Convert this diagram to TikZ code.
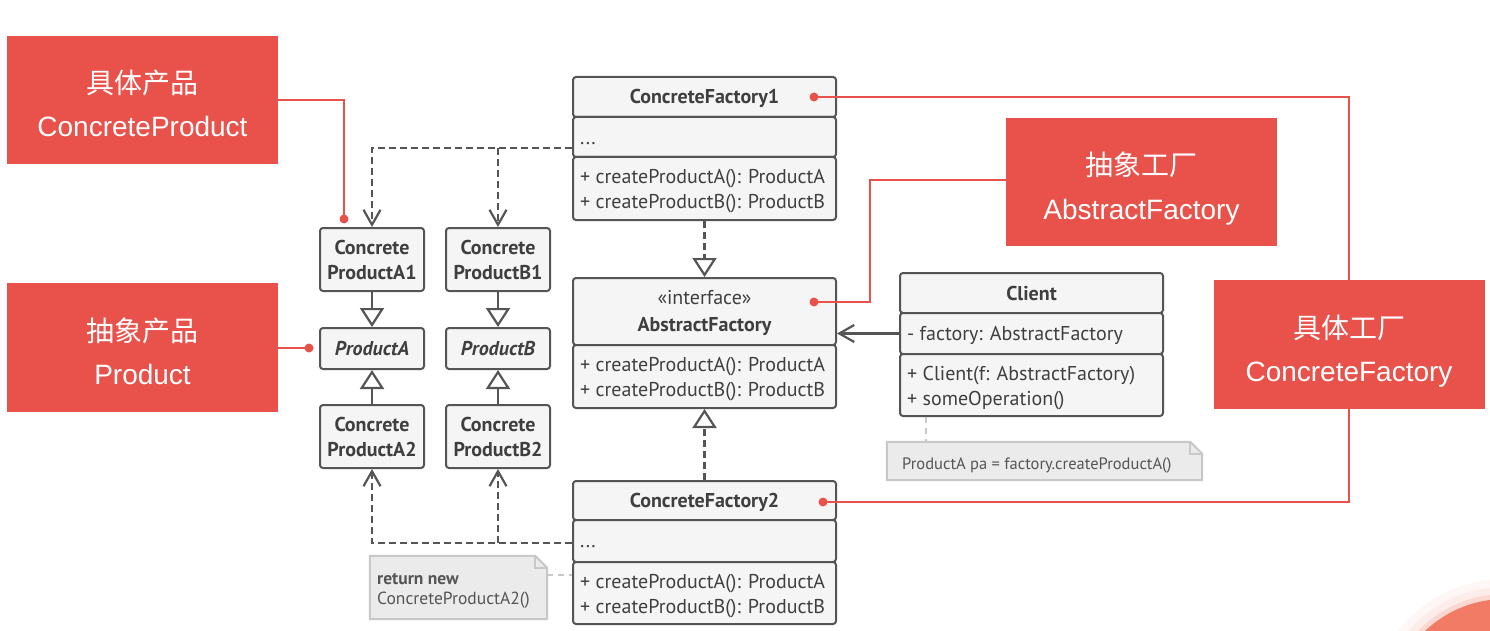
\documentclass[tikz,border=0pt]{standalone}
\usepackage{fontspec}
\setmainfont{PT Sans}
\newfontfamily\cjkfont{Noto Sans CJK SC}
\newfontfamily\arialfont{Liberation Sans}
\usetikzlibrary{arrows.meta,calc}
\definecolor{gline}{HTML}{555555}
\definecolor{gfill}{HTML}{F5F5F5}
\definecolor{gtext}{HTML}{3F3F3F}
\definecolor{redc}{HTML}{E8524B}
\definecolor{notefill}{HTML}{EBEBEB}
\definecolor{noteline}{HTML}{C8C8C8}
\definecolor{notetext}{HTML}{555555}
\definecolor{orangec}{HTML}{F27B66}
\newcommand\umlfs{\fontsize{20}{25}\selectfont}
\newcommand\notefs{\fontsize{16.5}{20}\selectfont}
\newcommand\notefsb{\fontsize{17.5}{20}\selectfont}
\newcommand\redfs{\fontsize{28}{34}\selectfont}
\begin{document}
\begin{tikzpicture}[x=1pt,y=-1pt,
  comp/.style={draw=gline, fill=gfill, line width=2pt, rounded corners=3pt, inner sep=0pt,
    minimum width=263pt, text=gtext, font=\umlfs\bfseries, text height=14pt, text depth=0pt},
  prod/.style={draw=gline, fill=gfill, line width=2pt, rounded corners=3pt, inner sep=0pt,
    minimum width=104pt, align=center, text=gtext, font=\umlfs\bfseries},
  member/.style={anchor=base west, inner sep=0pt, text=gtext, font=\umlfs},
  redbox/.style={fill=redc, minimum width=271pt, inner sep=0pt},
  cjktext/.style={anchor=base, inner sep=0pt, text=white, font=\redfs\cjkfont},
  engtext/.style={anchor=base, inner sep=0pt, text=white, font=\redfs\arialfont},
  redl/.style={draw=redc, line width=1.6pt},
  reddot/.style={circle, fill=redc, minimum size=9pt, inner sep=0pt},
  gen/.style={draw=gline, line width=2.2pt, -{Triangle[length=19pt,width=24pt,fill=white,line join=miter]}},
  realize/.style={gen, dash pattern=on 7pt off 4pt},
  dep/.style={draw=gline, line width=2.2pt, dash pattern=on 7pt off 4pt, -{Straight Barb[length=15pt,width=17pt]}},
  assoc/.style={draw=gline, line width=2.2pt, -{Straight Barb[length=15pt,width=17pt]}},
  notebox/.style={inner sep=0pt},
  notelink/.style={draw=noteline, line width=2pt, dash pattern=on 6pt off 5pt},
  notetxt/.style={anchor=base west, inner sep=0pt, text=notetext, font=\notefs}
]
\fill[white] (0,0) rectangle (1490,631);
\useasboundingbox (0,0) rectangle (1490,631);

% decorative circle bottom right
\fill[orangec!6] (1505,715) circle (136);
\fill[orangec!14] (1505,715) circle (128);
\fill[orangec!30] (1505,715) circle (121);
\fill[orangec] (1505,715) circle (116);

% ConcreteFactory1
\node[comp, minimum height=40pt] (cf1h) at (704.5,97) {ConcreteFactory1};
\node[comp, minimum height=40pt] (cf1a) at (704.5,137) {};
\node[comp, minimum height=63pt] (cf1m) at (704.5,188.5) {};
\node[member] (cf1d) at (580,145) {...};
\node[member] (cf1m1) at (580,183.5) {+ createProductA(): ProductA};
\node[member] (cf1m2) at (580,208.5) {+ createProductB(): ProductB};

% AbstractFactory
\node[comp, minimum height=67pt, text height=0pt] (afh) at (704.5,311.5) {};
\node[anchor=base, inner sep=0pt, text=gtext, font=\umlfs] (afs) at (704.5,304.5) {«interface»};
\node[anchor=base, inner sep=0pt, text=gtext, font=\umlfs\bfseries] (aft) at (704.5,331) {AbstractFactory};
\node[comp, minimum height=63pt] (afm) at (704.5,376.5) {};
\node[member] (afm1) at (580,371.5) {+ createProductA(): ProductA};
\node[member] (afm2) at (580,396.5) {+ createProductB(): ProductB};

% ConcreteFactory2
\node[comp, minimum height=39pt] (cf2h) at (704.5,500.5) {ConcreteFactory2};
\node[comp, minimum height=42pt] (cf2a) at (704.5,541) {};
\node[comp, minimum height=62pt] (cf2m) at (704.5,593) {};
\node[member] (cf2d) at (580,547) {...};
\node[member] (cf2m1) at (580,588) {+ createProductA(): ProductA};
\node[member] (cf2m2) at (580,613) {+ createProductB(): ProductB};

% Client
\node[comp, minimum height=40pt] (clh) at (1031.5,293) {Client};
\node[comp, minimum height=41pt] (cla) at (1031.5,333.5) {};
\node[comp, minimum height=62pt] (clm) at (1031.5,385) {};
\node[member] (cla1) at (907,340.5) {- factory: AbstractFactory};
\node[member] (clm1) at (907,380) {+ Client(f: AbstractFactory)};
\node[member] (clm2) at (907,405) {+ someOperation()};

% Products
\node[prod, minimum height=63pt] (a1) at (372,259.5) {Concrete\\ProductA1};
\node[prod, minimum height=63pt] (b1) at (498,259.5) {Concrete\\ProductB1};
\node[prod, minimum height=41pt, font=\umlfs\bfseries\itshape] (pa) at (372,348.5) {ProductA};
\node[prod, minimum height=41pt, font=\umlfs\bfseries\itshape] (pb) at (498,348.5) {ProductB};
\node[prod, minimum height=63pt] (a2) at (372,436.5) {Concrete\\ProductA2};
\node[prod, minimum height=63pt] (b2) at (498,436.5) {Concrete\\ProductB2};

% Notes
\node[notebox, minimum width=315pt, minimum height=38pt] (n1) at (1044.5,461) {};
\draw[draw=noteline, fill=notefill, line width=2pt, line join=miter]
  (n1.north west) -- ($(n1.north east)+(-12,0)$) -- ($(n1.north east)+(0,12)$)
  -- (n1.south east) -- (n1.south west) -- cycle;
\draw[draw=noteline, line width=2pt] ($(n1.north east)+(-12,0)$) -- ($(n1.north east)+(-12,12)$) -- ($(n1.north east)+(0,12)$);
\node[notetxt] (n1t) at (902,469) {ProductA pa = factory.createProductA()};

\node[notebox, minimum width=177pt, minimum height=63pt] (n2) at (458.5,587.5) {};
\draw[draw=noteline, fill=notefill, line width=2pt, line join=miter]
  (n2.north west) -- ($(n2.north east)+(-12,0)$) -- ($(n2.north east)+(0,12)$)
  -- (n2.south east) -- (n2.south west) -- cycle;
\draw[draw=noteline, line width=2pt] ($(n2.north east)+(-12,0)$) -- ($(n2.north east)+(-12,12)$) -- ($(n2.north east)+(0,12)$);
\node[notetxt, font=\notefsb\bfseries] (n2t1) at (377,584) {return new};
\node[notetxt, font=\notefsb] (n2t2) at (377,604) {ConcreteProductA2()};

% UML connectors
\draw[gen] (a1.south) -- (pa.north);
\draw[gen] (b1.south) -- (pb.north);
\draw[gen] (a2.north) -- (pa.south);
\draw[gen] (b2.north) -- (pb.south);
\draw[realize] (cf1m.south) -- (afh.north);
\draw[realize] (cf2h.north) -- (afm.south);
\draw[assoc] (cla.west) -- (cla.west -| afh.east);

\coordinate (k1) at ($(cf1a.west)+(0,11)$);
\draw[dep] (k1) -| (a1.north);
\draw[dep] (k1 -| b1.north) -- (b1.north);
\coordinate (k2) at ($(cf2a.west)+(0,2)$);
\draw[dep] (k2) -| (a2.south);
\draw[dep] (k2 -| b2.south) -- (b2.south);

\coordinate (k3) at ($(n2.east)+(0,-12.5)$);
\draw[notelink] (k3) -- (k3 -| cf2m.west);
\coordinate (k4) at ($(clm.south west)+(27,0)$);
\draw[notelink] (k4) -- (k4 |- n1.north);

% Red label boxes
\node[redbox, minimum height=128pt] (rcp) at (142.5,100) {};
\node[cjktext] (rcp1) at (142.5,94) {具体产品};
\node[engtext] (rcp2) at (142.5,137) {ConcreteProduct};

\node[redbox, minimum height=129pt] (rp) at (142.5,347.5) {};
\node[cjktext] (rp1) at (142.5,341) {抽象产品};
\node[engtext] (rp2) at (142.5,384) {Product};

\node[redbox, minimum height=128pt] (raf) at (1141.5,182) {};
\node[cjktext] (raf1) at (1141.5,176) {抽象工厂};
\node[engtext] (raf2) at (1141.5,219) {AbstractFactory};

\node[redbox, minimum height=129pt] (rcf) at (1349,344.5) {};
\node[cjktext] (rcf1) at (1349,338) {具体工厂};
\node[engtext] (rcf2) at (1349,381) {ConcreteFactory};

% Red connectors
\node[reddot] (d1) at (344,219) {};
\node[reddot] (d2) at (309,348) {};
\node[reddot] (d3) at (814,302) {};
\node[reddot] (d4) at (814,97) {};
\node[reddot] (d5) at (823,502) {};
\coordinate (k5) at (870,302);
\draw[redl] (rcp.east |- 0,100) -| (d1.center);
\draw[redl] (rp.east |- d2) -- (d2.center);
\draw[redl] (raf.west |- 0,180) -| (k5) -- (d3.center);
\draw[redl] (d4.center) -| (rcf.north);
\draw[redl] (rcf.south) |- (d5.center);
\end{tikzpicture}
\end{document}
